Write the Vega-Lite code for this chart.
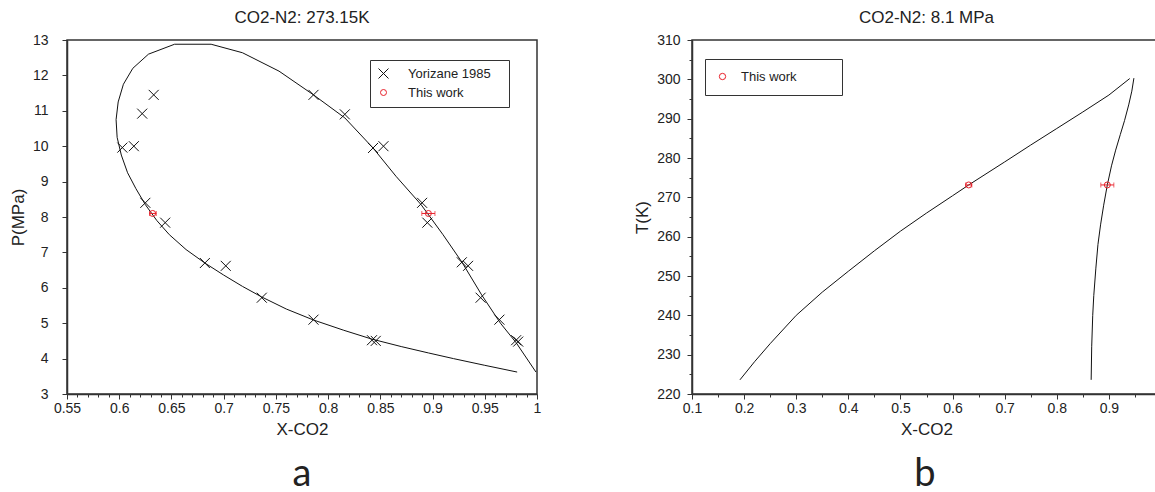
{
  "$schema": "https://vega.github.io/schema/vega-lite/v6.json",
  "autosize": {"type": "pad"},
  "padding": {"left": 8, "top": 8, "right": 0, "bottom": 0},
  "background": "white",
  "spacing": 90,
  "datasets": {
    "curveA": [
      {"i": 0, "x": 0.981, "P": 3.62},
      {"i": 1, "x": 0.95, "P": 3.81},
      {"i": 2, "x": 0.92, "P": 4.0},
      {"i": 3, "x": 0.896, "P": 4.16},
      {"i": 4, "x": 0.87, "P": 4.34},
      {"i": 5, "x": 0.842, "P": 4.55},
      {"i": 6, "x": 0.815, "P": 4.8},
      {"i": 7, "x": 0.786, "P": 5.09},
      {"i": 8, "x": 0.76, "P": 5.4},
      {"i": 9, "x": 0.7365, "P": 5.74},
      {"i": 10, "x": 0.718, "P": 6.04},
      {"i": 11, "x": 0.7, "P": 6.36},
      {"i": 12, "x": 0.682, "P": 6.7},
      {"i": 13, "x": 0.664, "P": 7.08},
      {"i": 14, "x": 0.648, "P": 7.5},
      {"i": 15, "x": 0.636, "P": 7.9},
      {"i": 16, "x": 0.625, "P": 8.35},
      {"i": 17, "x": 0.616, "P": 8.8},
      {"i": 18, "x": 0.608, "P": 9.25},
      {"i": 19, "x": 0.602, "P": 9.75},
      {"i": 20, "x": 0.598, "P": 10.25},
      {"i": 21, "x": 0.597, "P": 10.75},
      {"i": 22, "x": 0.599, "P": 11.25},
      {"i": 23, "x": 0.604, "P": 11.75},
      {"i": 24, "x": 0.613, "P": 12.2},
      {"i": 25, "x": 0.628, "P": 12.6},
      {"i": 26, "x": 0.653, "P": 12.88},
      {"i": 27, "x": 0.688, "P": 12.88},
      {"i": 28, "x": 0.718, "P": 12.64},
      {"i": 29, "x": 0.753, "P": 12.12},
      {"i": 30, "x": 0.786, "P": 11.45},
      {"i": 31, "x": 0.816, "P": 10.8},
      {"i": 32, "x": 0.843, "P": 9.95},
      {"i": 33, "x": 0.865, "P": 9.15},
      {"i": 34, "x": 0.889, "P": 8.35},
      {"i": 35, "x": 0.91, "P": 7.5},
      {"i": 36, "x": 0.928, "P": 6.73},
      {"i": 37, "x": 0.947, "P": 5.8},
      {"i": 38, "x": 0.965, "P": 5.0},
      {"i": 39, "x": 0.98, "P": 4.45},
      {"i": 40, "x": 0.999, "P": 3.62}
    ],
    "ptsA": [
      {"series": "Yorizane 1985", "x": 0.603, "P": 9.96},
      {"series": "Yorizane 1985", "x": 0.614, "P": 10.0},
      {"series": "Yorizane 1985", "x": 0.622, "P": 10.92},
      {"series": "Yorizane 1985", "x": 0.633, "P": 11.45},
      {"series": "Yorizane 1985", "x": 0.625, "P": 8.4},
      {"series": "Yorizane 1985", "x": 0.644, "P": 7.84},
      {"series": "Yorizane 1985", "x": 0.682, "P": 6.7},
      {"series": "Yorizane 1985", "x": 0.702, "P": 6.62},
      {"series": "Yorizane 1985", "x": 0.7365, "P": 5.72},
      {"series": "Yorizane 1985", "x": 0.786, "P": 5.1},
      {"series": "Yorizane 1985", "x": 0.842, "P": 4.52},
      {"series": "Yorizane 1985", "x": 0.8456, "P": 4.5},
      {"series": "Yorizane 1985", "x": 0.786, "P": 11.45},
      {"series": "Yorizane 1985", "x": 0.816, "P": 10.9},
      {"series": "Yorizane 1985", "x": 0.843, "P": 9.95},
      {"series": "Yorizane 1985", "x": 0.853, "P": 10.0},
      {"series": "Yorizane 1985", "x": 0.89, "P": 8.4},
      {"series": "Yorizane 1985", "x": 0.895, "P": 7.84},
      {"series": "Yorizane 1985", "x": 0.928, "P": 6.72},
      {"series": "Yorizane 1985", "x": 0.934, "P": 6.62},
      {"series": "Yorizane 1985", "x": 0.946, "P": 5.72},
      {"series": "Yorizane 1985", "x": 0.964, "P": 5.1},
      {"series": "Yorizane 1985", "x": 0.98, "P": 4.52},
      {"series": "Yorizane 1985", "x": 0.982, "P": 4.48},
      {"series": "This work", "x": 0.632, "P": 8.1},
      {"series": "This work", "x": 0.896, "P": 8.1}
    ],
    "errA": [
      {"x": 0.629, "xhi": 0.6355, "P": 8.1},
      {"x": 0.8897, "xhi": 0.9023, "P": 8.1}
    ],
    "curveB": [
      {"s": "L", "i": 0, "x": 0.192, "T": 223.6},
      {"s": "L", "i": 1, "x": 0.22, "T": 228.2},
      {"s": "L", "i": 2, "x": 0.25, "T": 232.8},
      {"s": "L", "i": 3, "x": 0.3, "T": 240.0},
      {"s": "L", "i": 4, "x": 0.35, "T": 245.9},
      {"s": "L", "i": 5, "x": 0.4, "T": 251.2},
      {"s": "L", "i": 6, "x": 0.45, "T": 256.4},
      {"s": "L", "i": 7, "x": 0.5, "T": 261.4},
      {"s": "L", "i": 8, "x": 0.55, "T": 266.0},
      {"s": "L", "i": 9, "x": 0.6, "T": 270.4},
      {"s": "L", "i": 10, "x": 0.631, "T": 273.15},
      {"s": "L", "i": 11, "x": 0.7, "T": 279.0},
      {"s": "L", "i": 12, "x": 0.75, "T": 283.3},
      {"s": "L", "i": 13, "x": 0.8, "T": 287.5},
      {"s": "L", "i": 14, "x": 0.85, "T": 291.7},
      {"s": "L", "i": 15, "x": 0.9, "T": 296.0},
      {"s": "L", "i": 16, "x": 0.94, "T": 300.2},
      {"s": "V", "i": 0, "x": 0.948, "T": 300.3},
      {"s": "V", "i": 1, "x": 0.944, "T": 297.0},
      {"s": "V", "i": 2, "x": 0.938, "T": 293.5},
      {"s": "V", "i": 3, "x": 0.93, "T": 289.5},
      {"s": "V", "i": 4, "x": 0.922, "T": 286.0},
      {"s": "V", "i": 5, "x": 0.913, "T": 282.0},
      {"s": "V", "i": 6, "x": 0.905, "T": 278.0},
      {"s": "V", "i": 7, "x": 0.897, "T": 273.15},
      {"s": "V", "i": 8, "x": 0.89, "T": 268.0},
      {"s": "V", "i": 9, "x": 0.884, "T": 263.0},
      {"s": "V", "i": 10, "x": 0.879, "T": 258.0},
      {"s": "V", "i": 11, "x": 0.875, "T": 252.0},
      {"s": "V", "i": 12, "x": 0.871, "T": 245.0},
      {"s": "V", "i": 13, "x": 0.869, "T": 240.0},
      {"s": "V", "i": 14, "x": 0.867, "T": 232.0},
      {"s": "V", "i": 15, "x": 0.866, "T": 223.6}
    ],
    "ptsB": [
      {"series": "This work", "x": 0.631, "T": 273.15},
      {"series": "This work", "x": 0.897, "T": 273.15}
    ],
    "errB": [
      {"x": 0.625, "xhi": 0.637, "T": 273.15},
      {"x": 0.8845, "xhi": 0.9095, "T": 273.15}
    ]
  },
  "config": {
    "font": "Liberation Sans",
    "view": {"stroke": "#333", "strokeWidth": 1.5},
    "axis": {
      "labelFont": "Liberation Sans", "labelFontSize": 14, "labelColor": "#222",
      "titleFont": "Liberation Sans", "titleFontSize": 17, "titleFontWeight": "normal", "titleColor": "#222",
      "domainColor": "#333", "domainWidth": 1.5, "tickColor": "#333", "tickWidth": 1,
      "grid": false, "labelOverlap": false, "labelFlush": false
    },
    "title": {"font": "Liberation Sans", "fontSize": 17, "fontWeight": "normal", "color": "#222"},
    "legend": {"labelFont": "Liberation Sans", "labelFontSize": 13, "labelColor": "#222", "strokeColor": "#333", "fillColor": "white", "symbolStrokeWidth": 1, "titleFontSize": 13}
  },
  "resolve": {
    "scale": {"x": "independent", "y": "independent", "color": "independent", "shape": "independent", "size": "independent"},
    "legend": {"color": "independent", "shape": "independent"}
  },
  "hconcat": [
    {
      "title": {"text": "a", "orient": "bottom", "font": "Lato", "fontSize": 38, "fontWeight": "normal", "color": "#222", "anchor": "middle", "frame": "group", "offset": 18, "dx": 235},
      "vconcat": [
        {
          "title": {"text": "CO2-N2: 273.15K", "frame": "group", "offset": 6},
          "width": 470,
          "height": 354,
          "encoding": {
            "x": {"field": "x", "type": "quantitative", "title": "X-CO2",
              "scale": {"domain": [0.55, 1.0], "nice": false, "zero": false},
              "axis": {
                "values": [0.55,0.56,0.57,0.58,0.59,0.6,0.61,0.62,0.63,0.64,0.65,0.66,0.67,0.68,0.69,0.7,0.71,0.72,0.73,0.74,0.75,0.76,0.77,0.78,0.79,0.8,0.81,0.82,0.83,0.84,0.85,0.86,0.87,0.88,0.89,0.9,0.91,0.92,0.93,0.94,0.95,0.96,0.97,0.98,0.99,1.0],
                "format": ".2~f",
                "labelExpr": "abs(datum.value*20 - round(datum.value*20)) < 0.001 ? datum.label : ''",
                "tickSize": {"condition": {"test": "abs(datum.value*20 - round(datum.value*20)) < 0.001", "value": 5}, "value": 3},
                "labelPadding": 2, "titlePadding": 6
              }},
            "y": {"field": "P", "type": "quantitative", "title": "P(MPa)",
              "scale": {"domain": [3, 13], "nice": false, "zero": false},
              "axis": {
                "values": [3,3.5,4,4.5,5,5.5,6,6.5,7,7.5,8,8.5,9,9.5,10,10.5,11,11.5,12,12.5,13],
                "format": "d",
                "labelExpr": "datum.value % 1 == 0 ? datum.label : ''",
                "tickSize": {"condition": {"test": "datum.value % 1 == 0", "value": 5}, "value": 3},
                "labelPadding": 14, "titlePadding": 5
              }}
          },
          "layer": [
            {
              "data": {"name": "curveA"},
              "mark": {"type": "line", "color": "#111", "strokeWidth": 1},
              "encoding": {
                "order": {"field": "i", "type": "quantitative"}
              }
            },
            {
              "data": {"name": "ptsA"},
              "mark": {"type": "point", "filled": false, "strokeWidth": 1, "opacity": 1},
              "encoding": {
                "color": {"field": "series", "type": "nominal",
                  "scale": {"domain": ["Yorizane 1985", "This work"], "range": ["#111111", "#e8202a"]},
                  "legend": {"orient": "none", "legendX": 303, "legendY": 20, "title": "\u00a0", "titleOrient": "right", "titlePadding": 11, "padding": 7, "rowPadding": 5, "labelOffset": 18, "symbolSize": 60}},
                "shape": {"field": "series", "type": "nominal",
                  "scale": {"domain": ["Yorizane 1985", "This work"], "range": ["M-1,-1L1,1M-1,1L1,-1", "circle"]},
                  "legend": {"orient": "none", "legendX": 303, "legendY": 20, "title": "\u00a0", "titleOrient": "right", "titlePadding": 11, "padding": 7, "rowPadding": 5, "labelOffset": 18, "symbolSize": 60}},
                "size": {"field": "series", "type": "nominal",
                  "scale": {"domain": ["Yorizane 1985", "This work"], "range": [100, 36]}, "legend": null}
              }
            },
            {
              "data": {"name": "errA"},
              "mark": {"type": "errorbar", "ticks": true, "color": "#e8202a"},
              "encoding": {
                "x2": {"field": "xhi"}
              }
            }
          ]
        }
      ]
    },
    {
      "title": {"text": "b", "orient": "bottom", "font": "Lato", "fontSize": 38, "fontWeight": "normal", "color": "#222", "anchor": "middle", "frame": "group", "offset": 18, "dx": 233},
      "vconcat": [
        {
          "title": {"text": "CO2-N2: 8.1 MPa", "frame": "group", "offset": 6},
          "width": 469,
          "height": 354,
          "encoding": {
            "x": {"field": "x", "type": "quantitative", "title": "X-CO2",
              "scale": {"domain": [0.1, 1.0], "nice": false, "zero": false},
              "axis": {
                "values": [0.1,0.15,0.2,0.25,0.3,0.35,0.4,0.45,0.5,0.55,0.6,0.65,0.7,0.75,0.8,0.85,0.9,0.95,1.0],
                "format": ".1~f",
                "labelExpr": "(abs(datum.value*10 - round(datum.value*10)) < 0.001 && datum.value < 0.99) ? datum.label : ''",
                "tickSize": {"condition": {"test": "abs(datum.value*10 - round(datum.value*10)) < 0.001", "value": 5}, "value": 3},
                "labelPadding": 2, "titlePadding": 6
              }},
            "y": {"field": "T", "type": "quantitative", "title": "T(K)",
              "scale": {"domain": [220, 310], "nice": false, "zero": false},
              "axis": {
                "values": [220,225,230,235,240,245,250,255,260,265,270,275,280,285,290,295,300,305,310],
                "format": "d",
                "labelExpr": "datum.value % 10 == 0 ? datum.label : ''",
                "tickSize": {"condition": {"test": "datum.value % 10 == 0", "value": 5}, "value": 3},
                "labelPadding": 7, "titlePadding": 5
              }}
          },
          "layer": [
            {
              "data": {"name": "curveB"},
              "mark": {"type": "line", "color": "#111", "strokeWidth": 1},
              "encoding": {
                "detail": {"field": "s", "type": "nominal"},
                "order": {"field": "i", "type": "quantitative"}
              }
            },
            {
              "data": {"name": "ptsB"},
              "mark": {"type": "point", "filled": false, "strokeWidth": 1, "opacity": 1, "size": 36},
              "encoding": {
                "color": {"field": "series", "type": "nominal",
                  "scale": {"domain": ["This work"], "range": ["#e8202a"]},
                  "legend": {"orient": "none", "legendX": 13, "legendY": 19, "title": "\u00a0", "titleOrient": "right", "titlePadding": 34, "padding": 11, "labelOffset": 12, "symbolSize": 40}},
                "shape": {"field": "series", "type": "nominal",
                  "scale": {"domain": ["This work"], "range": ["circle"]},
                  "legend": {"orient": "none", "legendX": 13, "legendY": 19, "title": "\u00a0", "titleOrient": "right", "titlePadding": 34, "padding": 11, "labelOffset": 12, "symbolSize": 40}}
              }
            },
            {
              "data": {"name": "errB"},
              "mark": {"type": "errorbar", "ticks": true, "color": "#e8202a"},
              "encoding": {
                "x2": {"field": "xhi"}
              }
            }
          ]
        }
      ]
    }
  ]
}
